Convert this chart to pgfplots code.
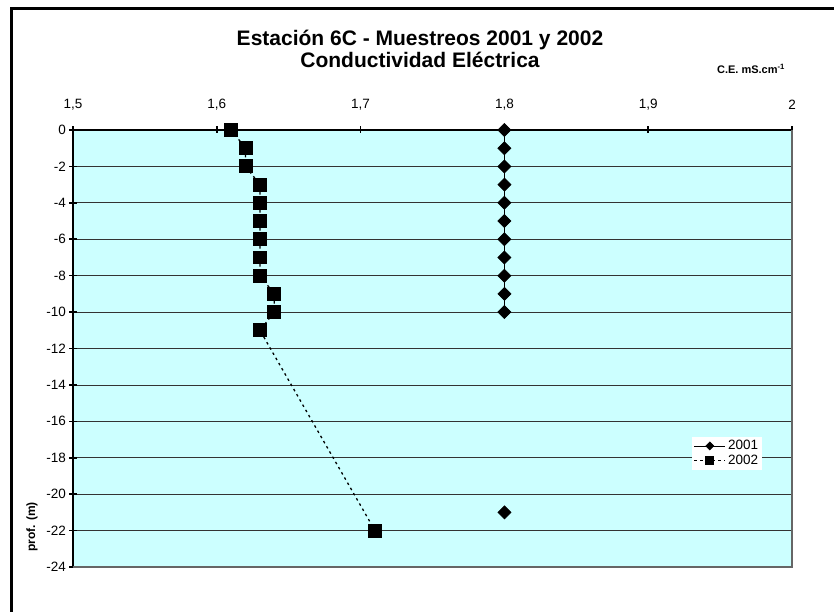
\documentclass[border=0pt]{standalone}
\usepackage{pgfplots}
\pgfplotsset{compat=1.18}
\usepackage{fontspec}
\setmainfont{Liberation Sans}
\definecolor{bgcyan}{RGB}{204,255,255}
\begin{document}
\begin{tikzpicture}[x=1pt,y=1pt]
\begin{axis}[
  width=719pt, height=437pt, scale only axis,
  xmin=1.5, xmax=2, ymin=-24, ymax=0,
  xtick={1.5,1.6,1.7,1.8,1.9,2},
  ytick={0,-2,-4,-6,-8,-10,-12,-14,-16,-18,-20,-22,-24},
  axis x line*=top, axis y line*=left,
  axis line style={line width=2.4pt, black},
  tick align=center, major tick length=7pt,
  tick style={line width=1.6pt, black},
  axis background/.style={fill=bgcyan},
  ymajorgrids, major grid style={black!80, line width=0.7pt},
  /pgf/number format/.cd, use comma, assume math mode=true, /pgfplots/.cd,
  xticklabel style={font=\fontsize{13.5}{15}\selectfont, yshift=13pt},
  yticklabel style={font=\fontsize{13.5}{15}\selectfont},
  unbounded coords=jump,
  legend style={at={(rel axis cs:0.958,0.222)}, anchor=south east, draw=none, fill=white,
    font=\fontsize{13.5}{15}\selectfont, inner sep=1.5pt, row sep=0pt},
  legend cell align=left,
  legend image code/.code={\draw[mark repeat=2,mark phase=2,/tikz/every mark/.append style={scale=0.6}]
     plot coordinates {(0cm,0cm) (0.55cm,0cm) (1.1cm,0cm)};},
  clip=false,
]
\draw[black!60, line width=1.2pt] (rel axis cs:1,1) -- (rel axis cs:1,0) -- (rel axis cs:0,0);
\addplot[black, line width=0.7pt, mark=square*, mark size=4.6pt, mark options={rotate=45, solid}]
  coordinates {(1.8,0)(1.8,-1)(1.8,-2)(1.8,-3)(1.8,-4)(1.8,-5)(1.8,-6)(1.8,-7)(1.8,-8)(1.8,-9)(1.8,-10)(nan,nan)(1.8,-21)};
\addlegendentry{2001}
\addplot[black, line width=1.3pt, dash pattern=on 2.5pt off 3.5pt, mark=square*, mark size=6.3pt, mark options={solid}]
  coordinates {(1.61,0)(1.62,-1)(1.62,-2)(1.63,-3)(1.63,-4)(1.63,-5)(1.63,-6)(1.63,-7)(1.63,-8)(1.64,-9)(1.64,-10)(1.63,-11)(1.71,-22)};
\addlegendentry{2002}
\coordinate (O) at (rel axis cs:0,0);
\end{axis}
\pgfresetboundingbox
\coordinate (P) at ([shift={(-73,-45)}]O);
\path[use as bounding box] (P) rectangle ([shift={(834,612)}]P);
\draw[line width=2.2pt] ([shift={(11.5,0)}]P) -- ([shift={(11.5,603.5)}]P) -- ([shift={(834,603.5)}]P);
\node[font=\bfseries\fontsize{21}{22}\selectfont, align=center] at ([shift={(420,563)}]P) {Estación 6C - Muestreos 2001 y 2002\\Conductividad Eléctrica};
\node[font=\bfseries\fontsize{11}{13}\selectfont] at ([shift={(751,543)}]P) {C.E. mS.cm\textsuperscript{-1}};
\node[rotate=90, font=\bfseries\fontsize{12}{14}\selectfont] at ([shift={(32,85)}]P) {prof. (m)};
\end{tikzpicture}
\end{document}
